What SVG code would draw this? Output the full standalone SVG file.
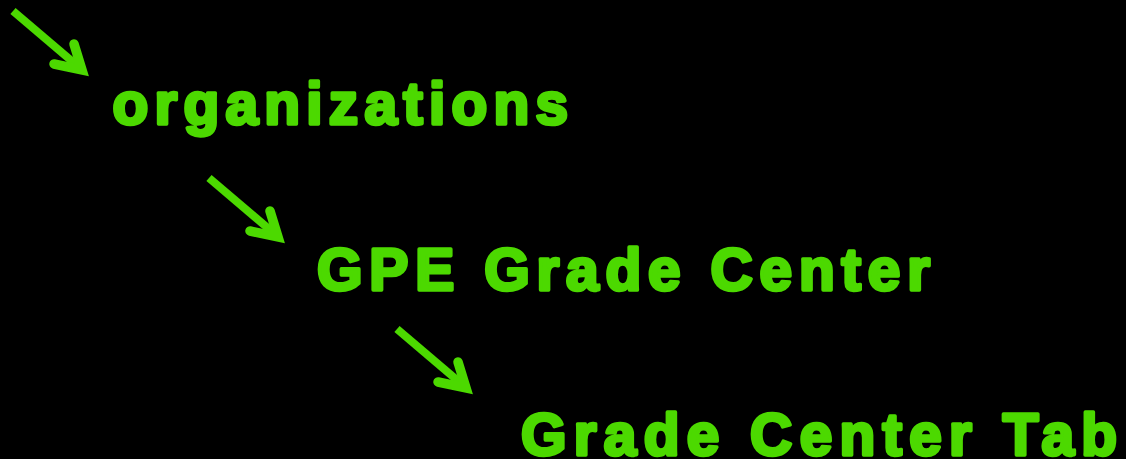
<svg xmlns="http://www.w3.org/2000/svg" xmlns:xlink="http://www.w3.org/1999/xlink" width="1126" height="459" viewBox="0 0 1126 459">
<style>
.lbl{font-family:"Liberation Sans",Arial,sans-serif;font-weight:bold;font-size:58.5px;fill:#4CD900;stroke:#4CD900;stroke-width:3.5;stroke-linejoin:round}
.shaft{fill:none;stroke:#4CD900;stroke-width:8;stroke-linecap:butt}
.head{fill:none;stroke:#4CD900;stroke-width:9.5;stroke-linecap:round;stroke-linejoin:miter;stroke-miterlimit:10}
</style>
<defs>
<g id="arrow">
<path class="shaft" d="M-76,-65 L-9,-8"/>
<polyline class="head" points="-15,-32 -7,-6 -35,-12"/>
</g>
</defs>
<rect width="1126" height="459" fill="#000"/>
<g id="connectors">
<use xlink:href="#arrow" transform="translate(89,76)"/>
<use xlink:href="#arrow" transform="translate(285,243)"/>
<use xlink:href="#arrow" transform="translate(473,394)"/>
</g>
<g id="node-organizations"><text class="lbl" x="112.5" y="124" textLength="455.5" lengthAdjust="spacing">organizations</text></g>
<g id="node-gpe"><text class="lbl" x="317" y="290" textLength="613" lengthAdjust="spacing">GPE Grade Center</text></g>
<g id="node-tab"><text class="lbl" x="521" y="455" textLength="596" lengthAdjust="spacing">Grade Center Tab</text></g>
</svg>
